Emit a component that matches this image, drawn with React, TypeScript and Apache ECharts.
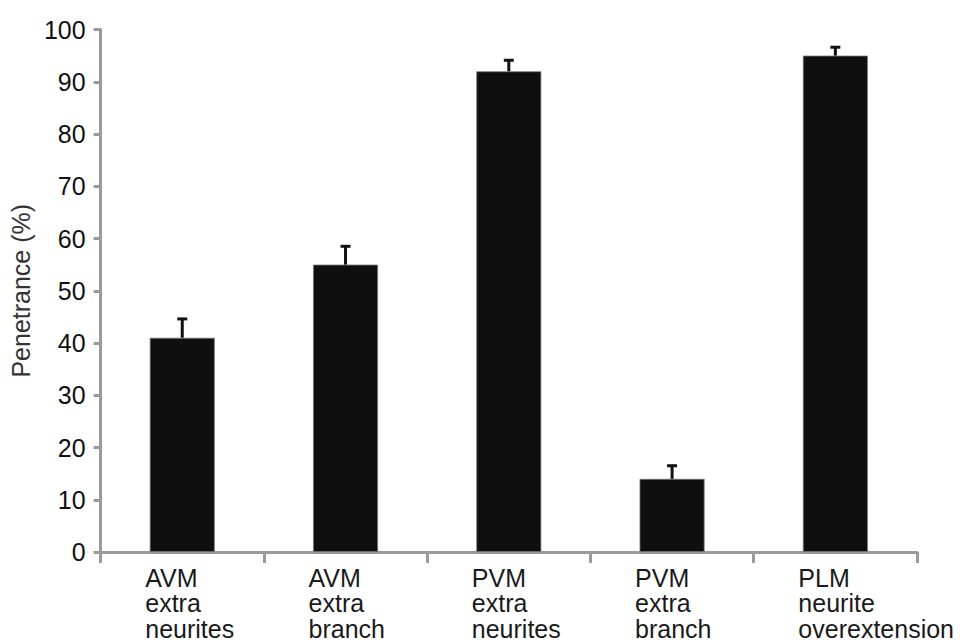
import React, { useEffect, useRef } from "react";
import * as echarts from "echarts";

const categories = [
  "AVM\nextra\nneurites",
  "AVM\nextra\nbranch",
  "PVM\nextra\nneurites",
  "PVM\nextra\nbranch",
  "PLM\nneurite\noverextension",
];
const values = [41, 55, 92, 14, 95];
const errors = [3.8, 3.7, 2.3, 2.7, 1.8];
const yTicks = { min: 0, max: 100, interval: 10 };
const yName = "Penetrance (%)";

const FONT = "'Liberation Sans', Arial, sans-serif";

export default function App() {
  const ref = useRef<HTMLDivElement>(null);
  useEffect(() => {
    if (!ref.current) return;
    const chart = echarts.init(ref.current, undefined, { renderer: "svg" });
    const errData = values.map((v, i) => [i, v, v + errors[i]]);
    chart.setOption({
      animation: false,
      backgroundColor: "#ffffff",
      grid: { left: 100, right: 54, top: 29.5, bottom: 91, containLabel: false },
      xAxis: {
        type: "category",
        data: categories,
        boundaryGap: true,
        axisLine: { lineStyle: { color: "#9a9a9a", width: 3 } },
        axisTick: { show: true, length: 11, lineStyle: { color: "#9a9a9a", width: 3 } },
        axisLabel: { show: false },
        splitLine: { show: false },
      },
      yAxis: {
        type: "value",
        min: yTicks.min,
        max: yTicks.max,
        interval: yTicks.interval,
        name: yName,
        nameLocation: "middle",
        nameGap: 58,
        nameTextStyle: { fontFamily: FONT, fontSize: 25, color: "#333333" },
        axisLine: { show: true, lineStyle: { color: "#9a9a9a", width: 3 } },
        axisTick: { show: true, length: 7, lineStyle: { color: "#9a9a9a", width: 3 } },
        axisLabel: { fontFamily: FONT, fontSize: 25, color: "#111111", margin: 15 },
        splitLine: { show: false },
      },
      series: [
        {
          type: "bar",
          data: values,
          barWidth: 65,
          itemStyle: { color: "#0f0f0f", borderColor: "#777777", borderWidth: 0.8 },
          z: 2,
        },
        {
          type: "custom",
          data: errData,
          z: 3,
          renderItem: (params: any, api: any) => {
            const x = api.value(0);
            const lo = api.coord([x, api.value(1)]);
            const hi = api.coord([x, api.value(2)]);
            const color = "#111111";
            return {
              type: "group",
              children: [
                {
                  type: "line",
                  shape: { x1: lo[0], y1: lo[1], x2: hi[0], y2: hi[1] },
                  style: { stroke: color, lineWidth: 3 },
                },
                {
                  type: "line",
                  shape: { x1: hi[0] - 5, y1: hi[1] + 1, x2: hi[0] + 5, y2: hi[1] + 1 },
                  style: { stroke: color, lineWidth: 3 },
                },
              ],
            };
          },
        },
      ],
    });
    const labels = categories.map((c, i) => {
      const px = chart.convertToPixel({ xAxisIndex: 0 }, i) as number;
      return {
        type: "text",
        x: px - 37,
        y: 565,
        style: {
          text: c,
          fontFamily: FONT,
          fontSize: 25,
          lineHeight: 25.5,
          fill: "#1a1a1a",
          textAlign: "left",
          textVerticalAlign: "top",
        },
      };
    });
    chart.setOption({ graphic: labels });
    return () => chart.dispose();
  }, []);
  return <div ref={ref} style={{ width: 971, height: 643, position: "absolute", left: 0, top: 0 }} />;
}
